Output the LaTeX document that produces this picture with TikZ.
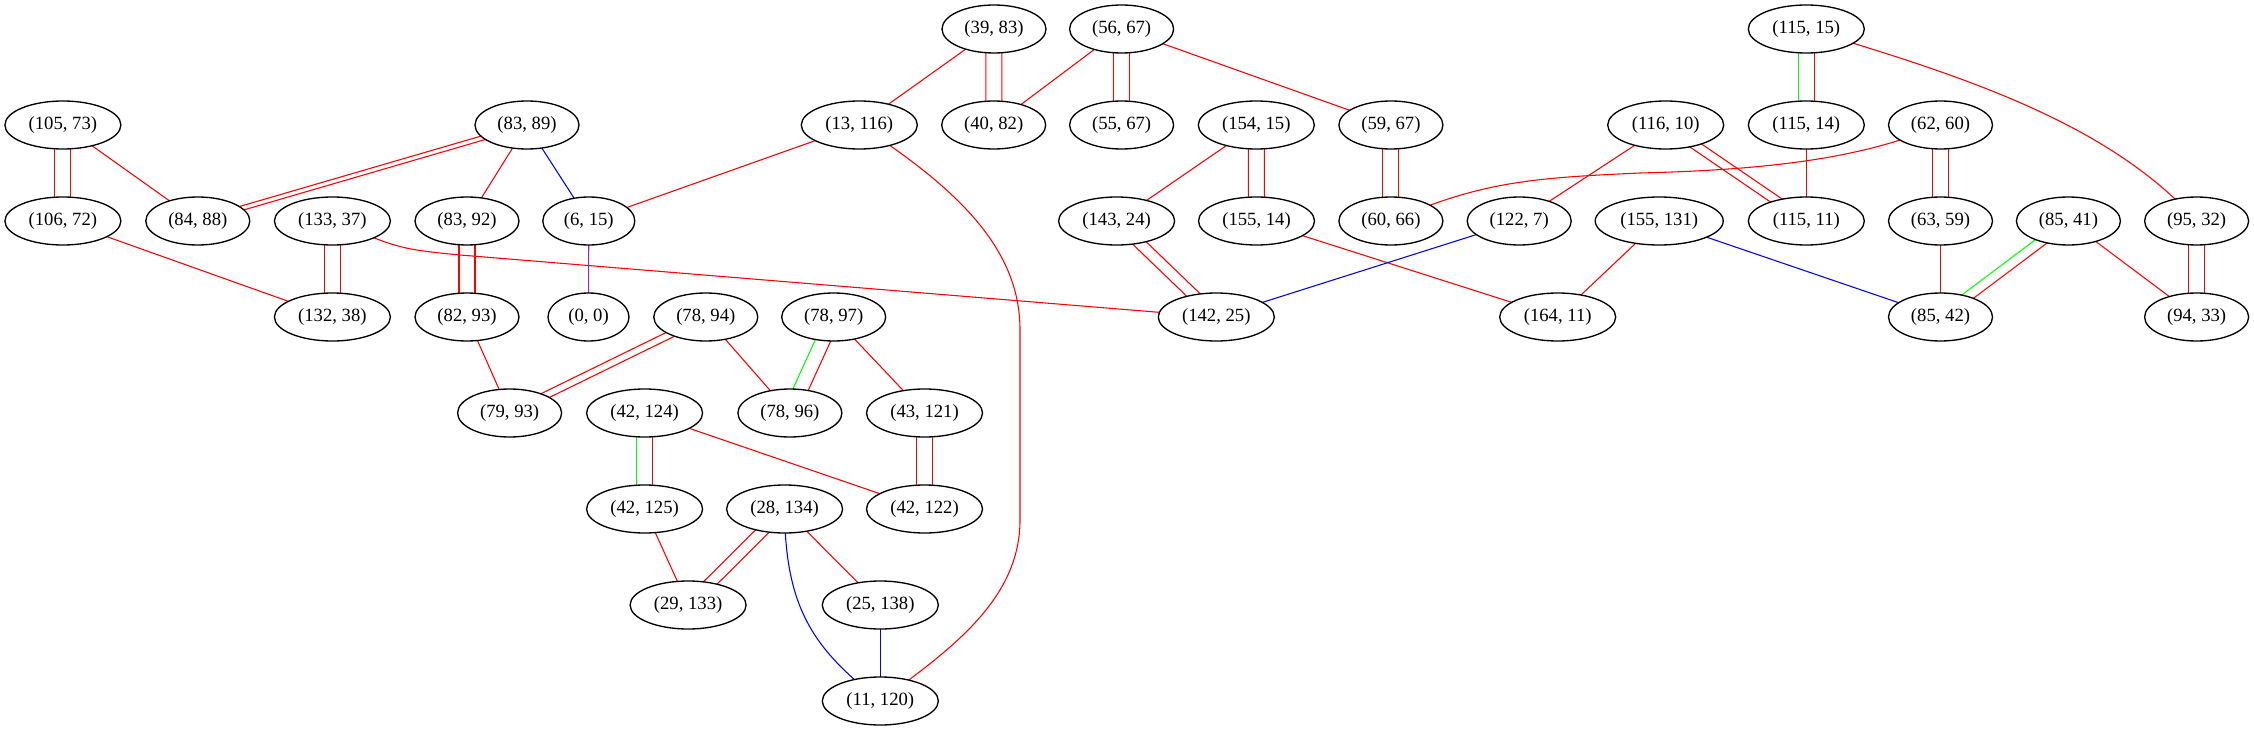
\documentclass[tikz,border=0pt]{standalone}
\usepackage{fontspec}
\setmainfont{Liberation Serif}
\usetikzlibrary{shapes.geometric,backgrounds}
\definecolor{gvred}{RGB}{255,0,0}
\definecolor{gvblue}{RGB}{0,0,255}
\definecolor{gvgreen}{RGB}{0,255,0}
\definecolor{gvpurple}{RGB}{160,32,240}
\newcommand{\twoedge}[4]{%
  \draw[#3] ([xshift=-6pt]#1.center) -- ([xshift=-6pt]#2.center);
  \draw[#4] ([xshift=6pt]#1.center) -- ([xshift=6pt]#2.center);}
\tikzset{
  nd/.style={ellipse, draw=black, line width=1pt, fill=white, inner sep=0pt,
    minimum height=36pt, font=\fontsize{14}{16}\selectfont},
  w6/.style={nd, minimum width=60.75pt},
  w7/.style={nd, minimum width=69pt},
  w8/.style={nd, minimum width=78pt},
  w9/.style={nd, minimum width=87pt},
  w10/.style={nd, minimum width=96pt},
  er/.style={draw=gvred, line width=0.8pt},
  eb/.style={draw=gvblue, line width=0.8pt},
  eg/.style={draw=gvgreen, line width=0.8pt},
  ep/.style={draw=gvpurple, line width=0.8pt}
}
\begin{document}
\begin{tikzpicture}[x=0.75pt, y=-0.75pt]
\useasboundingbox (0,0) rectangle (2254,731);
% row 0
\node[w8] (n39x83) at (994,29) {(39, 83)};
\node[w8] (n56x67) at (1121.6,29) {(56, 67)};
\node[w9] (n115x15) at (1806.3,29) {(115, 15)};
% row 1
\node[w9] (n105x73) at (62.9,125) {(105, 73)};
\node[w8] (n83x89) at (527,125) {(83, 89)};
\node[w9] (n13x116) at (859.3,125) {(13, 116)};
\node[w8] (n40x82) at (993.7,125) {(40, 82)};
\node[w8] (n55x67) at (1121.6,125) {(55, 67)};
\node[w9] (n154x15) at (1256.3,125) {(154, 15)};
\node[w8] (n59x67) at (1390.9,125) {(59, 67)};
\node[w9] (n116x10) at (1665.7,125) {(116, 10)};
\node[w9] (n115x14) at (1806.3,125) {(115, 14)};
\node[w8] (n62x60) at (1940.5,125) {(62, 60)};
% row 2
\node[w9] (n106x72) at (62.9,221) {(106, 72)};
\node[w8] (n84x88) at (197.8,221) {(84, 88)};
\node[w9] (n133x37) at (332.4,221) {(133, 37)};
\node[w8] (n83x92) at (467,221) {(83, 92)};
\node[w7] (n6x15) at (588.8,221) {(6, 15)};
\node[w9] (n143x24) at (1116.6,221) {(143, 24)};
\node[w9] (n155x14) at (1256.5,221) {(155, 14)};
\node[w8] (n60x66) at (1390.9,221) {(60, 66)};
\node[w8] (n122x7) at (1519.2,221) {(122, 7)};
\node[w10] (n155x131) at (1659.2,221) {(155, 131)};
\node[w9] (n115x11) at (1806.3,221) {(115, 11)};
\node[w8] (n63x59) at (1940.5,221) {(63, 59)};
\node[w8] (n85x41) at (2068.4,221) {(85, 41)};
\node[w8] (n95x32) at (2196.6,221) {(95, 32)};
% row 3
\node[w9] (n132x38) at (332.4,317) {(132, 38)};
\node[w8] (n82x93) at (467,317) {(82, 93)};
\node[w6] (n0x0) at (588.5,317) {(0, 0)};
\node[w8] (n78x94) at (705.8,317) {(78, 94)};
\node[w8] (n78x97) at (833.7,317) {(78, 97)};
\node[w9] (n142x25) at (1216.3,317) {(142, 25)};
\node[w9] (n164x11) at (1557.7,317) {(164, 11)};
\node[w8] (n85x42) at (1940.5,317) {(85, 42)};
\node[w8] (n94x33) at (2196.6,317) {(94, 33)};
% row 4
\node[w8] (n79x93) at (509.6,413) {(79, 93)};
\node[w9] (n42x124) at (644.6,413) {(42, 124)};
\node[w8] (n78x96) at (789.9,413) {(78, 96)};
\node[w9] (n43x121) at (924.5,413) {(43, 121)};
% row 5
\node[w9] (n42x125) at (644.6,509) {(42, 125)};
\node[w9] (n28x134) at (784.6,509) {(28, 134)};
\node[w9] (n42x122) at (924.5,509) {(42, 122)};
% row 6
\node[w9] (n29x133) at (688.1,605) {(29, 133)};
\node[w9] (n25x138) at (880.3,605) {(25, 138)};
% row 7
\node[w9] (n11x120) at (880.3,701) {(11, 120)};

\begin{pgfonlayer}{background}
% double edges
\twoedge{n105x73}{n106x72}{er}{er}
\twoedge{n83x89}{n84x88}{er}{er}
\twoedge{n133x37}{n132x38}{er}{er}
\twoedge{n83x92}{n82x93}{er}{er}
\twoedge{n39x83}{n40x82}{er}{er}
\twoedge{n56x67}{n55x67}{er}{er}
\twoedge{n154x15}{n155x14}{er}{er}
\twoedge{n59x67}{n60x66}{er}{er}
\twoedge{n143x24}{n142x25}{er}{er}
\twoedge{n116x10}{n115x11}{er}{er}
\twoedge{n115x15}{n115x14}{eg}{er}
\twoedge{n62x60}{n63x59}{er}{er}
\twoedge{n85x41}{n85x42}{eg}{er}
\twoedge{n95x32}{n94x33}{er}{er}
\twoedge{n78x94}{n79x93}{er}{er}
\twoedge{n78x97}{n78x96}{eg}{er}
\twoedge{n43x121}{n42x122}{er}{er}
\twoedge{n42x124}{n42x125}{eg}{er}
\twoedge{n28x134}{n29x133}{er}{er}
% single straight edges
\draw[er] (n105x73.center) -- (n84x88.center);
\draw[er] (n83x89.center) -- (n83x92.center);
\draw[eb] (n83x89.center) -- (n6x15.center);
\draw[er] (n106x72.center) -- (n132x38.center);
\draw[ep] (n6x15.center) -- (n0x0.center);
\draw[er] (n13x116.center) -- (n6x15.center);
\draw[er] (n39x83.center) -- (n13x116.center);
\draw[er] (n56x67.center) -- (n40x82.center);
\draw[er] (n56x67.center) -- (n59x67.center);
\draw[er] (n154x15.center) -- (n143x24.center);
\draw[er] (n155x14.center) -- (n164x11.center);
\draw[eb] (n122x7.center) -- (n142x25.center);
\draw[er] (n116x10.center) -- (n122x7.center);
\draw[er] (n115x14.center) -- (n115x11.center);
\draw[er] (n63x59.center) -- (n85x42.center);
\draw[er] (n155x131.center) -- (n164x11.center);
\draw[eb] (n155x131.center) -- (n85x42.center);
\draw[er] (n85x41.center) -- (n94x33.center);
\draw[er] (n82x93.center) -- (n79x93.center);
\draw[er] (n78x94.center) -- (n78x96.center);
\draw[er] (n78x97.center) -- (n43x121.center);
\draw[er] (n42x124.center) -- (n42x122.center);
\draw[er] (n42x125.center) -- (n29x133.center);
\draw[er] (n28x134.center) -- (n25x138.center);
\draw[eb] (n25x138.center) -- (n11x120.center);
% curved edges
\draw[er] (n133x37.center) .. controls (400,249) .. (460,255) -- (n142x25.center);
\draw[er] (n13x116.center) .. controls (960,190) and (1020,250) .. (1020,330)
  -- (1020,520) .. controls (1020,600) and (950,650) .. (n11x120.center);
\draw[er] (n115x15.center) .. controls (1956,74) and (2107,121) .. (n95x32.center);
\draw[er] (n62x60.center) .. controls (1860,160) and (1760,170) .. (1640,173)
  .. controls (1530,178) and (1480,182) .. (n60x66.center);
\draw[eb] (n28x134.center) .. controls (785,610) and (815,650) .. (n11x120.center);
\end{pgfonlayer}
\end{tikzpicture}
\end{document}
